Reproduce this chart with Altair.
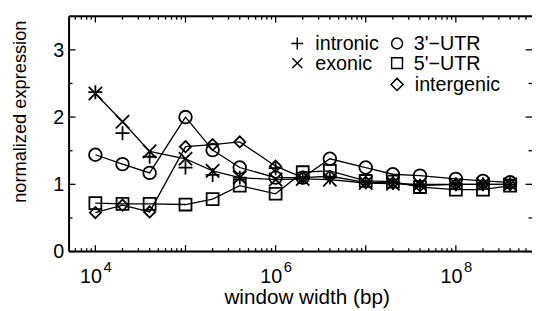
import altair as alt
import pandas as pd

# ---------------- data ----------------
window = [1e4, 2e4, 4e4, 1e5, 2e5, 4e5, 1e6, 2e6, 4e6, 1e7, 2e7, 4e7, 1e8, 2e8, 4e8]
intronic = [2.37, 1.76, 1.41, 1.25, 1.14, 1.10, 1.24, 1.10, 1.10, 1.03, 1.02, 0.98, 1.00, 1.00, 1.00]
exonic = [2.35, 1.93, 1.49, 1.38, 1.20, 1.10, 1.07, 1.08, 1.07, 1.02, 1.01, 1.00, 1.00, 1.00, 1.00]
utr3 = [1.44, 1.30, 1.17, 2.00, 1.51, 1.25, 1.10, 1.10, 1.38, 1.25, 1.15, 1.13, 1.08, 1.05, 1.03]
utr5 = [0.72, 0.71, 0.71, 0.70, 0.78, 0.98, 0.86, 1.18, 1.20, 1.05, 1.04, 0.96, 0.92, 0.92, 0.98]
intergenic = [0.58, 0.69, 0.59, 1.56, 1.59, 1.63, 1.27, 1.10, 1.12, 1.03, 1.02, 0.98, 1.00, 1.00, 1.00]

series_names = ["intronic", "exonic", "3'\u2212UTR", "5'\u2212UTR", "intergenic"]
series_values = [intronic, exonic, utr3, utr5, intergenic]
series_lines = [False, True, True, True, True]

x_major = [1e4, 1e5, 1e6, 1e7, 1e8]
x_minor = [k * 10 ** d for d in range(3, 9) for k in range(2, 10)]
y_major = [0, 1, 2, 3]
y_minor = [0.5, 1.5, 2.5]
x_labels = [1e4, 1e6, 1e8]
x_label_exp = ["4", "6", "8"]
x_title = "window width (bp)"
y_title = "normalized expression"

X_DOMAIN = [5105, 7.0e8]
Y_DOMAIN = [0, 3.5]

# ---------------- layout / style ----------------
W, H = 470, 239
FONT = "Liberation Sans"
PLUS = "M-1,0L1,0M0,-1L0,1"
CROSS = "M-1,-1L1,1M-1,1L1,-1"
shapes = [PLUS, CROSS, "circle", "square", "diamond"]
sizes = [200, 130, 225, 225, 260]
leg_sizes = [144, 100, 121, 121, 150]

rows = []
for name, vals, has_line in zip(series_names, series_values, series_lines):
    for xv, yv in zip(window, vals):
        rows.append({"series": name, "x": xv, "y": yv, "line": has_line})
df = pd.DataFrame(rows)

xscale = alt.Scale(type="log", domain=X_DOMAIN, nice=False)
yscale = alt.Scale(domain=Y_DOMAIN, nice=False, zero=False)
shape_scale = alt.Scale(domain=series_names, range=shapes)
size_scale = alt.Scale(domain=series_names, range=sizes)

X = lambda f: alt.X(f, scale=xscale, axis=None)
Y = lambda f: alt.Y(f, scale=yscale, axis=None)

lines = alt.Chart(df).transform_filter("datum.line").mark_line(
    color="black", strokeWidth=1.3
).encode(x=X("x:Q"), y=Y("y:Q"), detail="series:N", order="x:Q")

points = alt.Chart(df).mark_point(
    filled=False, color="black", strokeWidth=1.8, opacity=1
).encode(
    x=X("x:Q"), y=Y("y:Q"),
    shape=alt.Shape("series:N", scale=shape_scale, legend=None),
    size=alt.Size("series:N", scale=size_scale, legend=None),
)

one = alt.Data(values=[{}])

def xrules(vals, y0, y1):
    return alt.Chart(pd.DataFrame({"v": vals})).transform_filter(
        f"datum.v > {X_DOMAIN[0]} && datum.v < {X_DOMAIN[1]}"
    ).mark_rule(color="black", strokeWidth=1.3).encode(
        x=X("v:Q"), y=alt.value(y0), y2=alt.value(y1)
    )

def yrules(vals, x0, x1):
    return alt.Chart(pd.DataFrame({"v": vals})).mark_rule(
        color="black", strokeWidth=1.3
    ).encode(y=Y("v:Q"), x=alt.value(x0), x2=alt.value(x1))

ticks = [
    xrules(x_major, H, H - 6.5), xrules(x_minor, H, H - 3.5),
    xrules(x_major, 0, 6.5), xrules(x_minor, 0, 3.5),
    yrules(y_major, 0, 6.5), yrules(y_minor, 0, 3.5),
    yrules(y_major, W, W - 6.5), yrules(y_minor, W, W - 3.5),
]

frame = [
    alt.Chart(one).mark_rule(color="black", strokeWidth=2).encode(
        x=alt.value(0), y=alt.value(0), y2=alt.value(H)),
    alt.Chart(one).mark_rule(color="black", strokeWidth=2).encode(
        x=alt.value(0), x2=alt.value(W), y=alt.value(H)),
    alt.Chart(one).mark_rule(color="black", strokeWidth=2).encode(
        x=alt.value(0), x2=alt.value(W), y=alt.value(0)),
]

# axis labels
xlab_df = pd.DataFrame({"v": x_labels, "base": ["10"] * len(x_labels), "exp": x_label_exp})
xlab_base = alt.Chart(xlab_df).mark_text(
    align="right", baseline="alphabetic", dx=6.7, font=FONT, fontSize=20, color="black"
).encode(x=X("v:Q"), y=alt.value(H + 32), text="base:N")
xlab_exp = alt.Chart(xlab_df).mark_text(
    align="left", baseline="alphabetic", dx=8.3, font=FONT, fontSize=15, color="black"
).encode(x=X("v:Q"), y=alt.value(H + 20.3), text="exp:N")

ylab_df = pd.DataFrame({"v": y_major, "t": [str(v) for v in y_major]})
ylab = alt.Chart(ylab_df).mark_text(
    align="right", baseline="middle", dx=-5, dy=1, font=FONT, fontSize=20, color="black"
).encode(y=Y("v:Q"), x=alt.value(0), text="t:N")

xtitle = alt.Chart(one).mark_text(
    align="center", baseline="alphabetic", font=FONT, fontSize=21, color="black"
).encode(x=alt.value(241.7), y=alt.value(H + 53.7), text=alt.value(x_title))
ytitle = alt.Chart(one).mark_text(
    align="center", baseline="middle", angle=270, font=FONT, fontSize=18.5, color="black"
).encode(x=alt.value(-50), y=alt.value(97), text=alt.value(y_title))

# legend (two columns)
leg_sym_pos = [(231.7, 27.7), (231.7, 47.7), (333, 27.7), (333, 47.7), (333, 69.3)]
leg_txt_pos = [(250, 34.5), (250, 55), (350, 34.5), (350, 55), (351, 76)]
legend = []
for name, shp, sz, (sx, sy), (tx, ty) in zip(series_names, shapes, leg_sizes,
                                             leg_sym_pos, leg_txt_pos):
    legend.append(alt.Chart(one).mark_point(
        shape=shp, size=sz, filled=False, color="black", strokeWidth=1.5, opacity=1
    ).encode(x=alt.value(sx), y=alt.value(sy)))
    legend.append(alt.Chart(one).mark_text(
        align="left", baseline="alphabetic", font=FONT, fontSize=20, color="black"
    ).encode(x=alt.value(tx), y=alt.value(ty), text=alt.value(name)))

chart = alt.layer(
    lines, points, *ticks, *frame, xlab_base, xlab_exp, ylab, xtitle, ytitle, *legend
).properties(
    width=W, height=H,
    autosize=alt.AutoSizeParams(type="none"),
    padding={"left": 62, "top": 6, "right": 0, "bottom": 58},
).configure_view(stroke=None).configure(background="white")

chart.save("out.html", embed_options={"renderer": "svg", "actions": False})
